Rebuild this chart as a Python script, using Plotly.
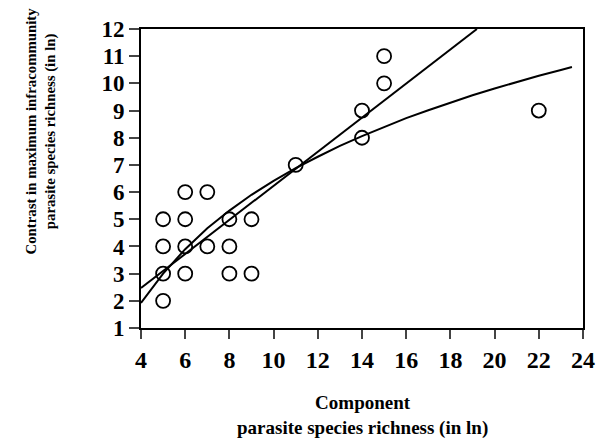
import plotly.graph_objects as go

# Observed points
pts_x = [5, 5, 5, 5, 6, 6, 6, 6, 7, 7, 8, 8, 8, 9, 9, 11, 14, 14, 15, 15, 22]
pts_y = [5, 4, 3, 2, 6, 5, 4, 3, 6, 4, 5, 4, 3, 5, 3, 7, 9, 8, 11, 10, 9]

# Linear fit line
lin_x = [4, 19.2]
lin_y = [2.47, 12]

# Curved (logarithmic) fit line
curve_x = [4, 5, 6, 7, 8, 9, 10, 11, 12, 13, 14, 15, 16, 17, 18, 19, 20, 21, 22, 23, 23.5]
curve_y = [1.92, 3.0, 3.9, 4.67, 5.32, 5.9, 6.41, 6.88, 7.3, 7.7, 8.06, 8.4, 8.72, 9.01,
           9.29, 9.56, 9.81, 10.05, 10.28, 10.49, 10.6]

x_ticks = [4, 6, 8, 10, 12, 14, 16, 18, 20, 22, 24]
y_ticks = [1, 2, 3, 4, 5, 6, 7, 8, 9, 10, 11, 12]

FONT = "Liberation Serif"

fig = go.Figure()
fig.add_trace(go.Scatter(x=lin_x, y=lin_y, mode="lines",
                         line=dict(color="black", width=2), showlegend=False))
fig.add_trace(go.Scatter(x=curve_x, y=curve_y, mode="lines",
                         line=dict(color="black", width=2), showlegend=False))
fig.add_trace(go.Scatter(x=pts_x, y=pts_y, mode="markers",
                         marker=dict(symbol="circle-open", size=14, color="black",
                                     line=dict(width=1.8, color="black")),
                         showlegend=False))

fig.update_layout(
    width=607, height=440,
    margin=dict(l=141, r=13, t=29, b=112),
    paper_bgcolor="white", plot_bgcolor="white",
    font=dict(family=FONT, color="black"),
)
fig.update_xaxes(range=[4, 24], tickvals=x_ticks, ticktext=[f"<b>{v}</b>" for v in x_ticks],
                 ticks="outside", ticklen=9, tickwidth=2,
                 showline=True, linewidth=2, linecolor="black", mirror=True,
                 showgrid=False, zeroline=False,
                 tickfont=dict(family=FONT, size=24, color="black"))
fig.update_yaxes(range=[1, 12], tickvals=y_ticks, ticktext=[f"<b>{v}</b>" for v in y_ticks],
                 ticks="outside", ticklen=10, tickwidth=2,
                 showline=True, linewidth=2, linecolor="black", mirror=True,
                 showgrid=False, zeroline=False,
                 tickfont=dict(family=FONT, size=23, color="black"))

fig.add_annotation(text="<b>Contrast in maximum infracommunity</b><br><b>parasite species richness (in ln)</b>",
                   xref="paper", yref="paper", x=(38 - 141) / 453, y=(328 - 131) / 299,
                   textangle=-90, showarrow=False, xanchor="center", yanchor="middle",
                   font=dict(family=FONT, size=14.8, color="black"))
fig.add_annotation(text="<b>Component</b><br><b>parasite species richness (in ln)</b>",
                   xref="paper", yref="paper", x=(368 - 141) / 453, y=-(415 - 328) / 299,
                   showarrow=False, xanchor="center", yanchor="middle",
                   font=dict(family=FONT, size=19, color="black"))

fig.write_html("out.html")
